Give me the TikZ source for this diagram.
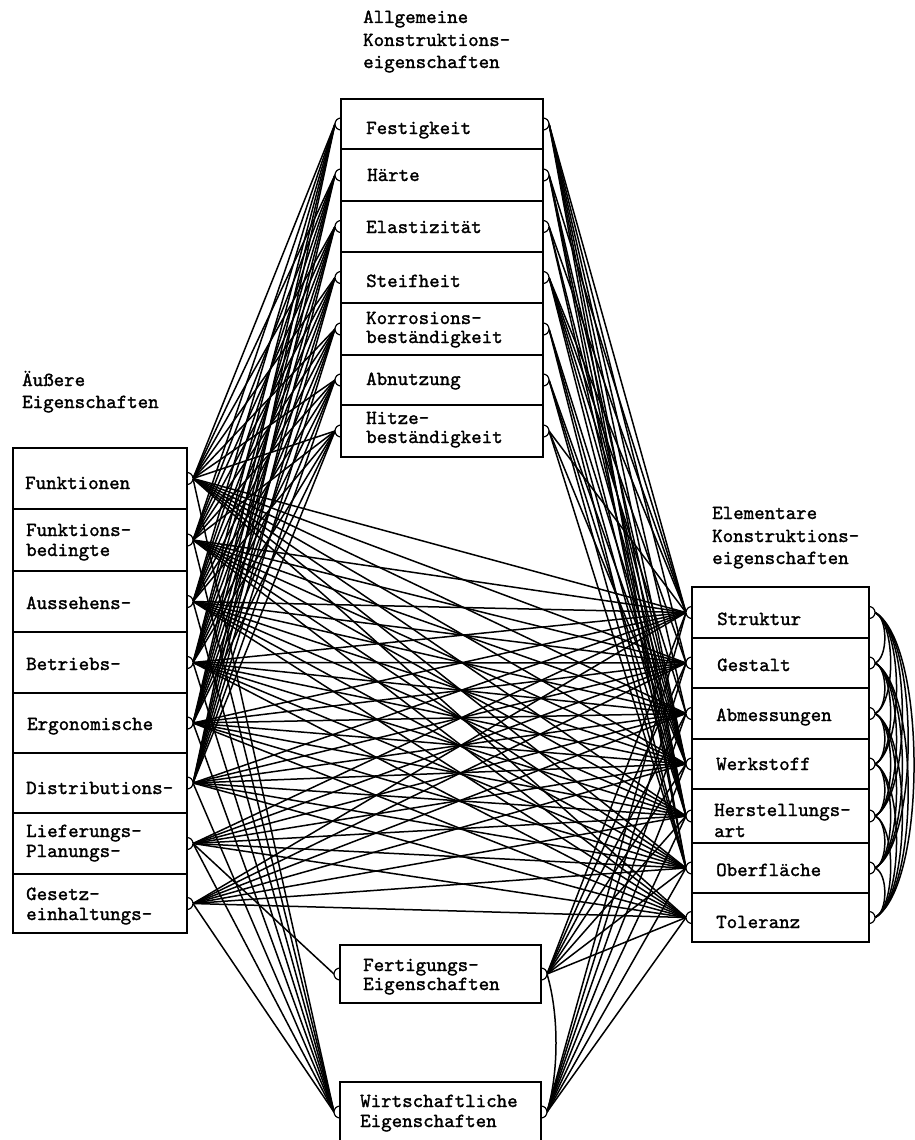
\documentclass[tikz,border=0pt]{standalone}
\usepackage{fontspec}
\newfontfamily\tw{lmmono10-regular}[Extension=.otf,FakeBold=1.4]
\newcommand\twfont{\tw\fontsize{20}{20}\selectfont}
\begin{document}
\begin{tikzpicture}[x=1pt,y=-1pt,
  txt/.style={anchor=base west,inner sep=0pt,font=\twfont},
  wire/.style={line width=1.5pt},
  cell/.style={draw,line width=2.4pt,fill=white,anchor=north west,inner sep=0pt,outer sep=0pt},
  port/.style={draw,line width=1.2pt,fill=white}]
\useasboundingbox (0,0) rectangle (915,1140);

% row lists: index / top / height
\def\leftrows{1/448/61,2/509/62,3/571/61,4/632/61,5/693/60,6/753/60,7/813/61,8/874/59}
\def\toprows{1/99/50,2/149/52,3/201/51,4/252/51,5/303/52,6/355/50,7/405/52}
\def\elemrows{1/587/51,2/638/50,3/688/51,4/739/50,5/789/54,6/843/50,7/893/49}

% connection points
\foreach \n/\t/\h in \leftrows {
  \coordinate (cL\n) at (187,\t+\h/2);
  \coordinate (L\n) at (193,\t+\h/2);
}
\foreach \n/\t/\h in \toprows {
  \coordinate (cTa\n) at (341,\t+\h/2);
  \coordinate (Ta\n) at (335,\t+\h/2);
  \coordinate (cTb\n) at (543,\t+\h/2);
  \coordinate (Tb\n) at (549,\t+\h/2);
}
\foreach \n/\t/\h in \elemrows {
  \coordinate (cEl\n) at (692,\t+\h/2);
  \coordinate (El\n) at (686,\t+\h/2);
  \coordinate (cEr\n) at (869,\t+\h/2);
  \coordinate (Er\n) at (875,\t+\h/2);
}
\coordinate (cFL) at (340,974);  \coordinate (FL) at (334,974);
\coordinate (cFR) at (541,974);  \coordinate (FR) at (547,974);
\coordinate (cWL) at (340,1112); \coordinate (WL) at (334,1112);
\coordinate (cWR) at (541,1112); \coordinate (WR) at (547,1112);

% outer properties -> general construction properties
\foreach \i in {1,...,6}
  \foreach \j in {1,...,7}
    \draw[wire] (L\i) -- (Ta\j);
% outer properties -> elementary construction properties
\foreach \i in {1,...,8}
  \foreach \j in {1,...,7}
    \draw[wire] (L\i) -- (El\j);
% outer properties -> economic / manufacturing properties
\foreach \i in {1,...,8}
  \draw[wire] (L\i) -- (WL);
\draw[wire] (L7) -- (FL);
% manufacturing and economic properties -> elementary properties
\foreach \j in {1,...,7} {
  \draw[wire] (FR) -- (El\j);
  \draw[wire] (WR) -- (El\j);
}
\draw[wire] (FR) .. controls +(12,40) and +(12,-40) .. (WR);
% general -> elementary properties
\foreach \i/\j in {1/1,1/2,1/3,1/4,1/5,1/6,
                   2/1,2/4,2/5,2/6,
                   3/1,3/4,3/5,
                   4/1,4/2,4/3,4/4,4/5,
                   5/4,5/5,5/6,
                   6/4,6/5,6/6,
                   7/1,7/4,7/6}
  \draw[wire] (Tb\i) -- (El\j);
% mutual relations of the elementary properties
\foreach \i/\j in {1/2,1/3,1/4,1/5,1/6,1/7,
                   2/3,2/4,2/5,2/6,2/7,
                   3/4,3/5,3/6,3/7,
                   4/5,4/6,4/7,
                   5/6,5/7,
                   6/7} {
  \pgfmathsetmacro\dd{(\j-\i)*50.8}
  \pgfmathsetmacro\cc{1.333*(0.115*\dd+4)}
  \pgfmathsetmacro\kk{0.1*\dd}
  \draw[wire] (Er\i) .. controls +(\cc,\kk) and +(\cc,-\kk) .. (Er\j);
}

% port circles
\foreach \n in {1,...,8} \draw[port] (cL\n) circle[radius=6pt];
\foreach \n in {1,...,7} {
  \draw[port] (cTa\n) circle[radius=6pt];
  \draw[port] (cTb\n) circle[radius=6pt];
  \draw[port] (cEl\n) circle[radius=6pt];
  \draw[port] (cEr\n) circle[radius=6pt];
}
\foreach \p in {cFL,cFR,cWL,cWR} \draw[port] (\p) circle[radius=6pt];

% boxes
\foreach \n/\t/\h in \leftrows
  \node[cell,minimum width=174pt,minimum height=\h pt] (A\n) at (13,\t) {};
\foreach \n/\t/\h in \toprows
  \node[cell,minimum width=202pt,minimum height=\h pt] (G\n) at (341,\t) {};
\foreach \n/\t/\h in \elemrows
  \node[cell,minimum width=177pt,minimum height=\h pt] (E\n) at (692,\t) {};
\node[cell,minimum width=201pt,minimum height=58pt] (F) at (340,945) {};
\node[cell,minimum width=201pt,minimum height=61pt] (W) at (340,1082) {};

% headings
\node[txt] (hA1) at (363,23) {Allgemeine};
\node[txt] (hA2) at (363,46) {Konstruktions-};
\node[txt] (hA3) at (363,68) {eigenschaften};
\node[txt] (hB1) at (22,386) {Äußere};
\node[txt] (hB2) at (22,408) {Eigenschaften};
\node[txt] (hC1) at (712,519) {Elementare};
\node[txt] (hC2) at (712,542) {Konstruktions-};
\node[txt] (hC3) at (712,564) {eigenschaften};

% labels: outer properties
\node[txt] (a1) at (25,489) {Funktionen};
\node[txt] (a2a) at (26,536) {Funktions-};
\node[txt] (a2b) at (26,556) {bedingte};
\node[txt] (a3) at (26,609) {Aussehens-};
\node[txt] (a4) at (26,670) {Betriebs-};
\node[txt] (a5) at (27,730) {Ergonomische};
\node[txt] (a6) at (26,794) {Distributions-};
\node[txt] (a7a) at (26,837) {Lieferungs-};
\node[txt] (a7b) at (26,857) {Planungs-};
\node[txt] (a8a) at (26,900) {Gesetz-};
\node[txt] (a8b) at (26,920) {einhaltungs-};

% labels: general construction properties
\node[txt] (g1) at (366,134) {Festigkeit};
\node[txt] (g2) at (367,181) {Härte};
\node[txt] (g3) at (366,233) {Elastizität};
\node[txt] (g4) at (366,287) {Steifheit};
\node[txt] (g5a) at (366,324) {Korrosions-};
\node[txt] (g5b) at (366,343) {beständigkeit};
\node[txt] (g6) at (366,385) {Abnutzung};
\node[txt] (g7a) at (366,424) {Hitze-};
\node[txt] (g7b) at (366,443) {beständigkeit};

% labels: elementary construction properties
\node[txt] (e1) at (717,625) {Struktur};
\node[txt] (e2) at (717,671) {Gestalt};
\node[txt] (e3) at (716,721) {Abmessungen};
\node[txt] (e4) at (716,770) {Werkstoff};
\node[txt] (e5a) at (714,816) {Herstellungs-};
\node[txt] (e5b) at (714,837) {art};
\node[txt] (e6) at (716,876) {Oberfläche};
\node[txt] (e7) at (716,928) {Toleranz};

% labels: manufacturing and economic properties
\node[txt] (f1) at (363,971) {Fertigungs-};
\node[txt] (f2) at (363,990) {Eigenschaften};
\node[txt] (w1) at (360,1107) {Wirtschaftliche};
\node[txt] (w2) at (360,1127) {Eigenschaften};
\end{tikzpicture}
\end{document}
